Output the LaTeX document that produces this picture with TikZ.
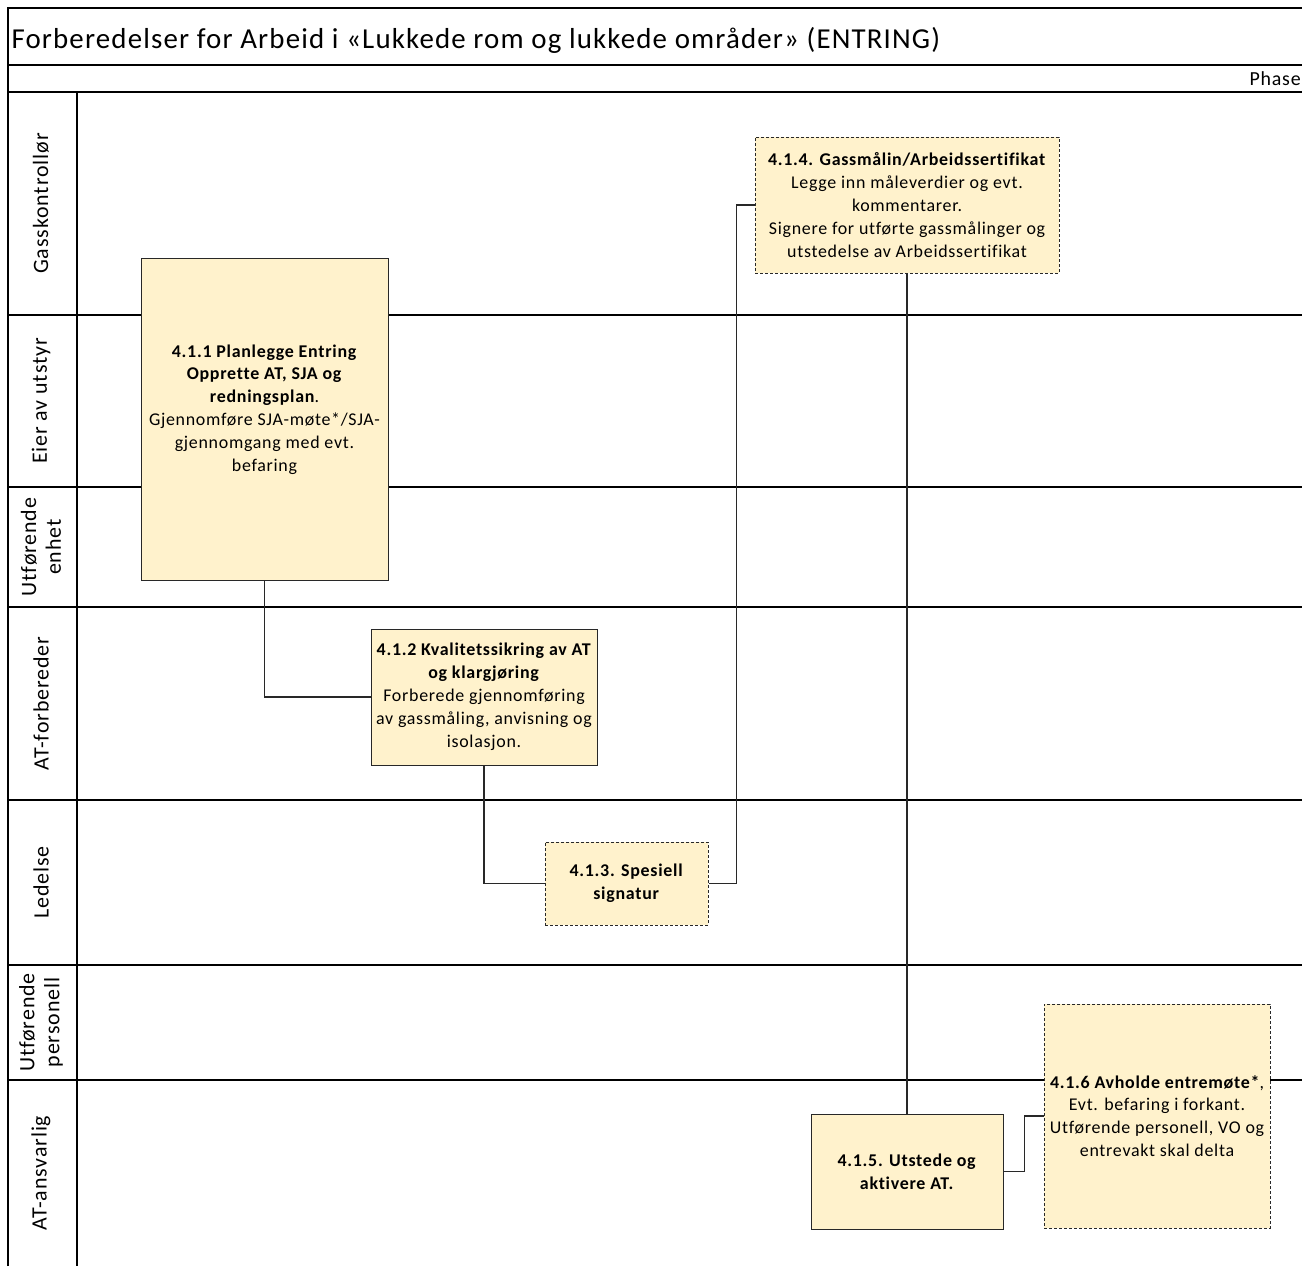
\documentclass[tikz,border=0pt]{standalone}
\usepackage{fontspec}
\setmainfont{Carlito}[Ligatures=NoCommon, LetterSpace=4]
\usetikzlibrary{positioning}
\definecolor{taskfill}{RGB}{255,242,204}
\definecolor{linegray}{RGB}{40,40,40}

\begin{document}
\begin{tikzpicture}[
        x=1bp, y=-1bp,
        font=\fontsize{18}{23}\selectfont,
        lane/.style={line width=1.3bp, draw=black},
        conn/.style={line width=1.3bp, draw=linegray},
        task/.style={rectangle, draw=linegray, fill=taskfill, line width=1bp, align=center, inner sep=2bp},
        opttask/.style={task, dash pattern=on 3bp off 2bp},
        lanelabel/.style={rotate=90, align=center, font=\fontsize{22}{25}\selectfont}
    ]
        \path[use as bounding box, fill=white] (0,0) rectangle (1302,1266);

        % frame and lanes
        \draw[lane] (8,1266) -- (8,8) -- (1302,8);
        \draw[lane] (8,65) -- (1302,65);
        \draw[lane] (8,92) -- (1302,92);
        \draw[lane] (77,92) -- (77,1266);
        \foreach \y in {315,487,607,800,965,1080}
            \draw[lane] (8,\y) -- (1302,\y);

        \node[anchor=west, font=\fontsize{29}{32}\selectfont] (title) at (8,40) {Forberedelser for Arbeid i «Lukkede rom og lukkede områder» (ENTRING)};
        \node[anchor=west, font=\fontsize{20}{22}\selectfont] (phase) at (1246,79) {Phase};

        \node[lanelabel] (lgas) at (41,203.5) {Gasskontrollør};
        \node[lanelabel] (leier) at (41,401) {Eier av utstyr};
        \node[lanelabel] (lutf) at (41,547) {Utførende\\enhet};
        \node[lanelabel] (latf) at (41,703.5) {AT-forbereder};
        \node[lanelabel] (lled) at (41,882.5) {Ledelse};
        \node[lanelabel] (lpers) at (41,1022.5) {Utførende\\personell};
        \node[lanelabel] (lans) at (41,1173) {AT-ansvarlig};

        % tasks
        \node[task, minimum width=247bp, minimum height=322bp] (p1) at (264.5,419) {\textbf{4.1.1 Planlegge Entring}\\\textbf{Opprette AT, SJA og}\\\textbf{redningsplan}.\\Gjennomføre SJA-møte*/SJA-\\gjennomgang med evt.\\befaring\\[-1bp]};
        \node[task, minimum width=226bp, minimum height=136bp] (p2) at (484,697) {\textbf{4.1.2 Kvalitetssikring av AT}\\\textbf{og klargjøring}\\Forberede gjennomføring\\av gassmåling, anvisning og\\isolasjon.};
        \node[opttask, minimum width=163bp, minimum height=83bp] (p3) at (626.5,883.5) {\textbf{4.1.3. Spesiell}\\\textbf{signatur}};
        \node[opttask, minimum width=304bp, minimum height=136bp] (p4) at (907,205) {\textbf{4.1.4. Gassmålin/Arbeidssertifikat}\\Legge inn måleverdier og evt.\\kommentarer.\\Signere for utførte gassmålinger og\\utstedelse av Arbeidssertifikat};
        \node[task, minimum width=192bp, minimum height=115bp] (p5) at (907,1171.5) {\textbf{4.1.5. Utstede og}\\\textbf{aktivere AT.}};
        \node[opttask, minimum width=226bp, minimum height=224bp] (p6) at (1157,1116) {\textbf{4.1.6 Avholde entremøte*},\\Evt. befaring i forkant.\\Utførende personell, VO og\\entrevakt skal delta};

        \draw[conn] (p1.south) |- (p2.west);
        \draw[conn] (p2.south) |- (p3.west);
        \draw[conn] (p3.east) -- ++(28,0) |- (p4.west);
        \draw[conn] (p4.south) -- (p5.north);
        \draw[conn] (p5.east) -- ++(21,0) |- (p6.west);
    \end{tikzpicture}
\end{document}
